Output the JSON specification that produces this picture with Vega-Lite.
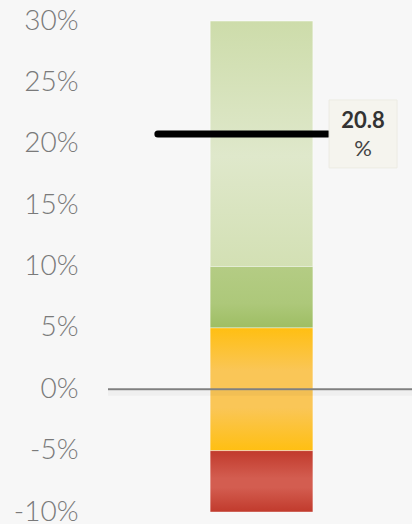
{
  "$schema": "https://vega.github.io/schema/vega-lite/v6.json",
  "width": 304,
  "height": 491,
  "autosize": "none",
  "padding": {"left": 108, "top": 21, "right": 0, "bottom": 12},
  "background": "#f7f7f7",
  "config": {"view": {"stroke": null}},
  "datasets": {
    "bands": [
      {"band": "red", "lo": -10, "hi": -5},
      {"band": "amber", "lo": -5, "hi": 5},
      {"band": "green", "lo": 5, "hi": 10},
      {"band": "light", "lo": 10, "hi": 30}
    ],
    "baseline": [{"value": 0}],
    "actual": [{"value": 20.8, "label": "20.8", "unit": "%"}]
  },
  "encoding": {
    "y": {
      "type": "quantitative",
      "scale": {"domain": [-10, 30], "nice": false, "zero": false},
      "axis": {
        "title": null, "domain": false, "ticks": false, "grid": false,
        "values": [-10, -5, 0, 5, 10, 15, 20, 25, 30],
        "labelExpr": "datum.value + '%'",
        "labelPadding": 30, "labelFontSize": 28, "labelFont": "Lato",
        "labelFontWeight": 300, "labelColor": "#7a7a7a"
      }
    }
  },
  "layer": [
    {
      "data": {"name": "bands"},
      "transform": [{"filter": "datum.band == 'light'"}],
      "mark": {"type": "rect", "stroke": "#ffffff", "strokeOpacity": 0.5, "strokeWidth": 1,
        "fill": {"gradient": "linear", "x1": 0, "y1": 0, "x2": 0, "y2": 1,
          "stops": [{"offset": 0, "color": "#cddcaa"}, {"offset": 0.55, "color": "#dfe8cb"}, {"offset": 1, "color": "#d3e0b4"}]}},
      "encoding": {
        "x": {"datum": 33.6, "type": "quantitative", "scale": {"domain": [0, 100], "nice": false}, "axis": null},
        "x2": {"datum": 67.4},
        "y": {"field": "lo", "type": "quantitative"},
        "y2": {"field": "hi"}
      }
    },
    {
      "data": {"name": "bands"},
      "transform": [{"filter": "datum.band == 'green'"}],
      "mark": {"type": "rect", "stroke": "#ffffff", "strokeOpacity": 0.4, "strokeWidth": 1,
        "fill": {"gradient": "linear", "x1": 0, "y1": 0, "x2": 0, "y2": 1,
          "stops": [{"offset": 0, "color": "#b4cc84"}, {"offset": 0.6, "color": "#adc87a"}, {"offset": 1, "color": "#9ebe63"}]}},
      "encoding": {
        "x": {"datum": 33.6, "type": "quantitative"},
        "x2": {"datum": 67.4},
        "y": {"field": "lo", "type": "quantitative"},
        "y2": {"field": "hi"}
      }
    },
    {
      "data": {"name": "bands"},
      "transform": [{"filter": "datum.band == 'amber'"}],
      "mark": {"type": "rect", "stroke": "#ffffff", "strokeOpacity": 0.4, "strokeWidth": 1,
        "fill": {"gradient": "linear", "x1": 0, "y1": 0, "x2": 0, "y2": 1,
          "stops": [{"offset": 0, "color": "#ffbf12"}, {"offset": 0.35, "color": "#fac657"}, {"offset": 0.65, "color": "#fac657"}, {"offset": 1, "color": "#ffbf12"}]}},
      "encoding": {
        "x": {"datum": 33.6, "type": "quantitative"},
        "x2": {"datum": 67.4},
        "y": {"field": "lo", "type": "quantitative"},
        "y2": {"field": "hi"}
      }
    },
    {
      "data": {"name": "bands"},
      "transform": [{"filter": "datum.band == 'red'"}],
      "mark": {"type": "rect", "stroke": "#ffffff", "strokeOpacity": 0.4, "strokeWidth": 1,
        "fill": {"gradient": "linear", "x1": 0, "y1": 0, "x2": 0, "y2": 1,
          "stops": [{"offset": 0, "color": "#c13a2c"}, {"offset": 0.45, "color": "#d35d50"}, {"offset": 0.6, "color": "#d35d50"}, {"offset": 1, "color": "#c13a2c"}]}},
      "encoding": {
        "x": {"datum": 33.6, "type": "quantitative"},
        "x2": {"datum": 67.4},
        "y": {"field": "lo", "type": "quantitative"},
        "y2": {"field": "hi"}
      }
    },
    {
      "data": {"name": "baseline"},
      "mark": {"type": "rule", "stroke": "#000000", "strokeWidth": 5, "opacity": 0.03, "yOffset": 4},
      "encoding": {
        "x": {"datum": 0, "type": "quantitative"},
        "x2": {"datum": 100},
        "y": {"field": "value", "type": "quantitative"}
      }
    },
    {
      "data": {"name": "baseline"},
      "mark": {"type": "rule", "stroke": "#808080", "strokeWidth": 2},
      "encoding": {
        "x": {"datum": 0, "type": "quantitative"},
        "x2": {"datum": 100},
        "y": {"field": "value", "type": "quantitative"}
      }
    },
    {
      "data": {"name": "actual"},
      "mark": {"type": "rule", "stroke": "#000000", "strokeWidth": 7, "strokeCap": "round"},
      "encoding": {
        "x": {"datum": 16.4, "type": "quantitative"},
        "x2": {"datum": 72.4},
        "y": {"field": "value", "type": "quantitative"}
      }
    },
    {
      "data": {"name": "actual"},
      "mark": {"type": "point", "shape": "square", "size": 4620, "filled": true, "fill": "#f5f4ee", "opacity": 1, "stroke": "#ecebe3", "strokeWidth": 1},
      "encoding": {
        "x": {"datum": 83.9, "type": "quantitative"},
        "y": {"field": "value", "type": "quantitative"}
      }
    },
    {
      "data": {"name": "actual"},
      "mark": {"type": "text", "font": "Lato", "fontSize": 22, "fontWeight": "bold", "color": "#333333", "dy": -13, "align": "center", "baseline": "middle"},
      "encoding": {
        "x": {"datum": 83.9, "type": "quantitative"},
        "y": {"field": "value", "type": "quantitative"},
        "text": {"field": "label"}
      }
    },
    {
      "data": {"name": "actual"},
      "mark": {"type": "text", "font": "Lato", "fontSize": 22, "fontWeight": "normal", "color": "#444444", "dy": 15, "align": "center", "baseline": "middle"},
      "encoding": {
        "x": {"datum": 83.9, "type": "quantitative"},
        "y": {"field": "value", "type": "quantitative"},
        "text": {"field": "unit"}
      }
    }
  ]
}
